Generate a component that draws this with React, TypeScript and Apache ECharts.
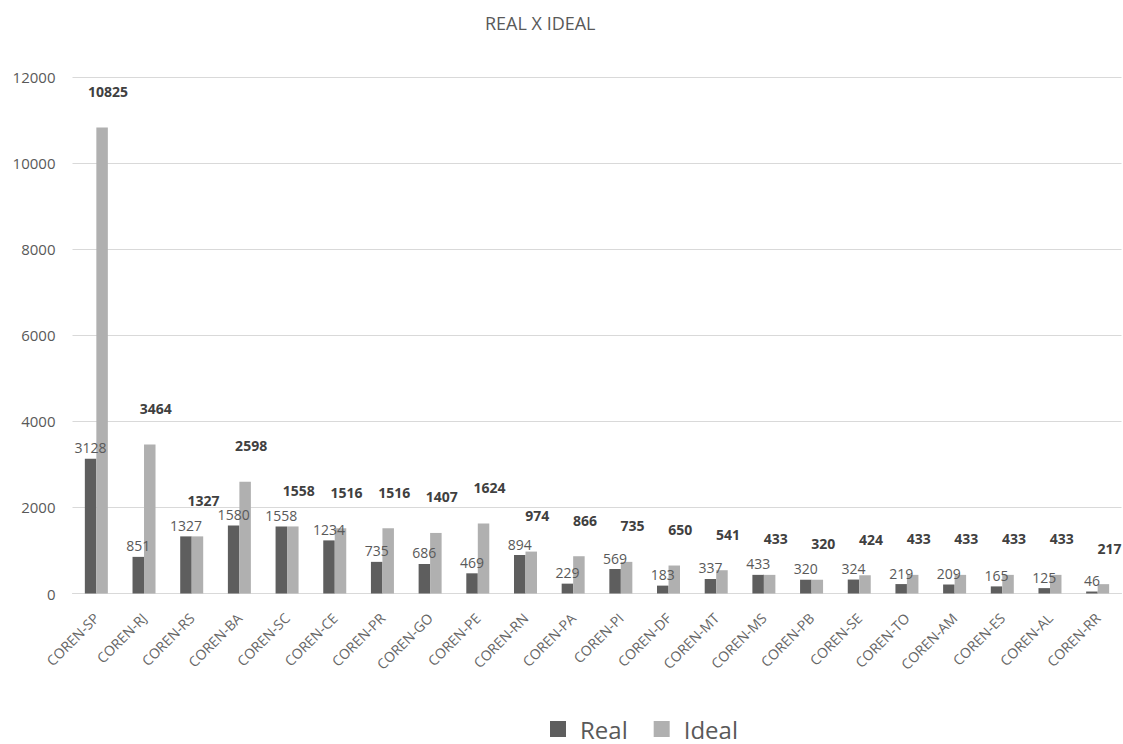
import React, { useEffect, useRef } from "react";
import * as echarts from "echarts";

const categories = [
  "COREN-SP", "COREN-RJ", "COREN-RS", "COREN-BA", "COREN-SC", "COREN-CE",
  "COREN-PR", "COREN-GO", "COREN-PE", "COREN-RN", "COREN-PA", "COREN-PI",
  "COREN-DF", "COREN-MT", "COREN-MS", "COREN-PB", "COREN-SE", "COREN-TO",
  "COREN-AM", "COREN-ES", "COREN-AL", "COREN-RR",
];
const realValues = [3128, 851, 1327, 1580, 1558, 1234, 735, 686, 469, 894, 229, 569, 183, 337, 433, 320, 324, 219, 209, 165, 125, 46];
const idealValues = [10825, 3464, 1327, 2598, 1558, 1516, 1516, 1407, 1624, 974, 866, 735, 650, 541, 433, 320, 424, 433, 433, 433, 433, 217];
const yMin = 0;
const yMax = 12000;
const yInterval = 2000;

const FONT = "'Open Sans', 'Noto Sans', sans-serif";

export default function App() {
  const ref = useRef<HTMLDivElement>(null);
  useEffect(() => {
    const chart = echarts.init(ref.current!, null, { renderer: "svg" });
    chart.setOption({
      animation: false,
      backgroundColor: "#ffffff",
      textStyle: { fontFamily: FONT },
      title: {
        text: "REAL X IDEAL",
        left: 480,
        top: 9,
        textStyle: { fontSize: 18, fontWeight: "normal", color: "#595959", fontFamily: FONT },
      },
      legend: {
        data: ["Real", "Ideal"],
        left: 550,
        top: 717,
        padding: 0,
        icon: "rect",
        itemWidth: 16,
        itemHeight: 16,
        itemGap: 26,
        textStyle: { fontSize: 24, color: "#595959", fontFamily: FONT, padding: [0, 0, 0, 9] },
      },
      grid: { left: 72.5, right: 1.5, top: 77, bottom: 150.5, containLabel: false },
      xAxis: {
        type: "category",
        data: categories,
        axisLine: { show: true, lineStyle: { color: "#d9d9d9", width: 1 } },
        axisTick: { show: false },
        axisLabel: {
          rotate: 45,
          interval: 0,
          margin: 22,
          fontSize: 14,
          color: "#666666",
          fontFamily: FONT,
        },
      },
      yAxis: {
        type: "value",
        min: yMin,
        max: yMax,
        interval: yInterval,
        axisLine: { show: false },
        axisTick: { show: false },
        splitLine: { lineStyle: { color: "#d9d9d9", width: 1 } },
        axisLabel: {
          fontSize: 15,
          color: "#595959",
          margin: 17,
          fontFamily: FONT,
          formatter: (v: number) => String(v),
        },
      },
      series: [
        {
          name: "Real",
          type: "bar",
          data: realValues,
          barWidth: 11.5,
          barGap: "0%",
          itemStyle: { color: "#5e5e5e" },
          label: {
            show: true,
            position: "top",
            distance: 4,
            fontSize: 14,
            color: "#595959",
            fontFamily: FONT,
          },
        },
        {
          name: "Ideal",
          type: "bar",
          data: idealValues,
          barWidth: 11.5,
          barGap: "0%",
          itemStyle: { color: "#b0b0b0" },
          label: {
            show: true,
            position: "top",
            distance: 29,
            offset: [6, 0],
            fontSize: 14,
            fontWeight: "bold",
            color: "#404040",
            fontFamily: FONT,
          },
        },
      ],
    });
    return () => chart.dispose();
  }, []);
  return (
    <div
      ref={ref}
      style={{ position: "fixed", left: 0, top: 0, width: 1123, height: 744, background: "#fff" }}
    />
  );
}
